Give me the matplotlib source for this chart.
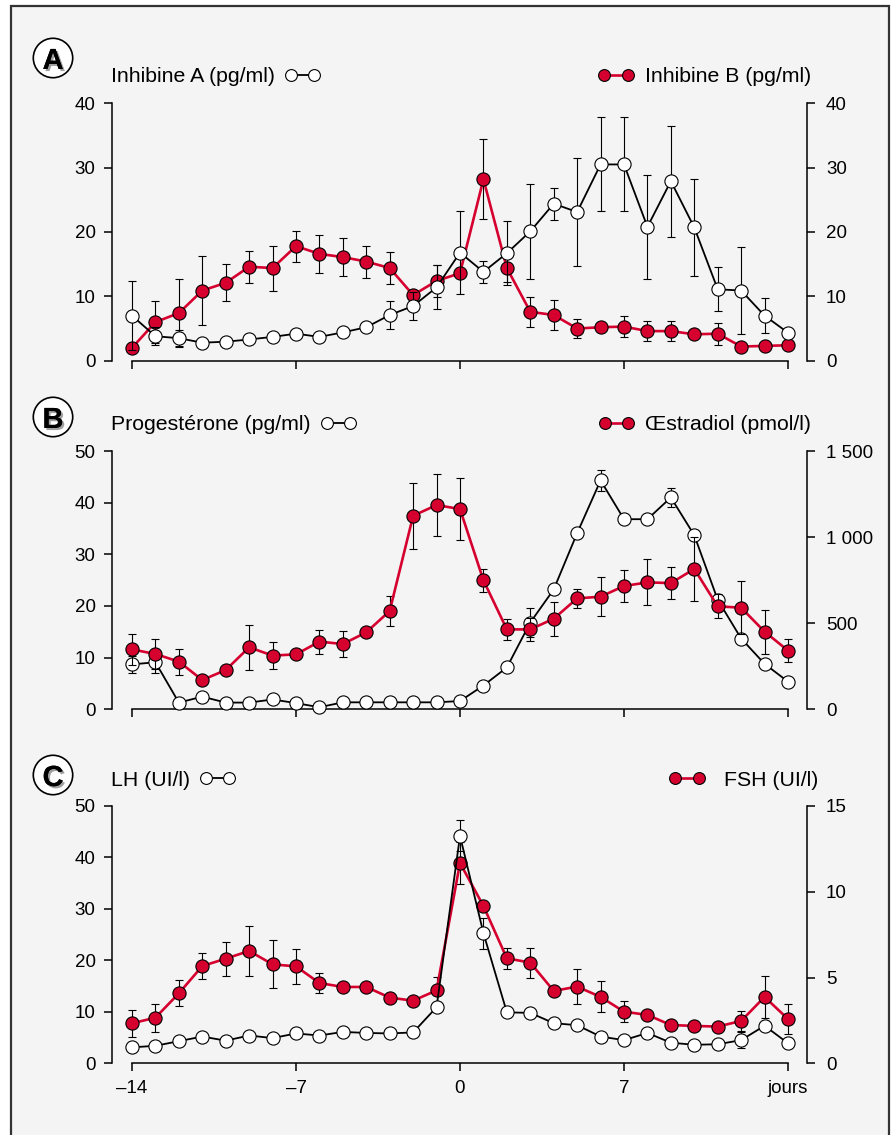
import matplotlib
matplotlib.use('Agg')
import matplotlib.pyplot as plt
import matplotlib.patheffects as pe
from matplotlib.patches import Circle, Rectangle
from matplotlib.lines import Line2D

plt.rcParams['font.family'] = ['Liberation Sans', 'DejaVu Sans']

days = list(range(-14, 15))

# A : inhibines (pg/ml)
inhA = [7.0, 3.8, 3.5, 2.8, 2.95, 3.3, 3.7, 4.2, 3.7, 4.4, 5.2, 7.1, 8.5, 11.4,
        16.8, 13.8, 16.7, 20.1, 24.4, 23.1, 30.5, 30.5, 20.8, 27.9, 20.7, 11.1, 10.9, 7.0, 4.35]
inhA_err = [5.4, 1.4, 1.2, 0, 0, 0, 0, 0, 0, 0, 0, 2.1, 2.1, 3.4,
            6.4, 1.7, 5.0, 7.4, 2.5, 8.4, 7.3, 7.3, 8.1, 8.6, 7.6, 3.4, 6.8, 2.7, 0]
inhB = [2.0, 6.0, 7.4, 10.9, 12.1, 14.6, 14.4, 17.8, 16.6, 16.1, 15.4, 14.4, 10.2, 12.4,
        13.6, 28.2, 14.4, 7.6, 7.1, 5.0, 5.2, 5.3, 4.6, 4.6, 4.1, 4.2, 2.2, 2.3, 2.4]
inhB_err = [0, 3.3, 5.3, 5.3, 2.9, 2.5, 3.5, 2.4, 2.9, 3.0, 2.5, 2.5, 0, 2.5,
            0, 6.2, 2.1, 2.3, 2.3, 1.5, 0, 1.6, 1.5, 1.5, 0, 1.7, 0, 0, 0]

# B : progesterone (pg/ml) et oestradiol (pmol/l)
prog = [8.7, 9.1, 1.3, 2.45, 1.3, 1.3, 1.9, 1.2, 0.4, 1.35, 1.35, 1.35, 1.35, 1.35,
        1.6, 4.6, 8.1, 16.8, 23.2, 34.1, 44.3, 36.8, 36.8, 41.0, 33.7, 21.2, 13.7, 8.8, 5.35]
prog_err = [1.6, 2.0, 0, 0, 0, 0, 0, 0, 0, 0, 0, 0, 0, 0,
            0, 0, 0, 2.8, 0, 0, 2.0, 0, 0, 1.9, 0, 0, 0, 0, 0]
e2 = [348, 321, 277, 170, 228, 360, 312, 319, 393, 379, 447, 571, 1124, 1186,
      1163, 749, 464, 464, 526, 644, 654, 716, 737, 733, 815, 598, 590, 451, 341]
e2_err = [88, 88, 75, 0, 0, 132, 80, 0, 70, 75, 0, 88, 192, 180,
          180, 68, 60, 68, 100, 56, 114, 93, 133, 93, 184, 70, 153, 127, 66]

# C : LH et FSH (UI/l)
lh = [3.1, 3.4, 4.3, 5.2, 4.4, 5.4, 4.9, 5.8, 5.4, 6.1, 5.9, 5.8, 6.0, 10.9,
      44.2, 25.3, 9.9, 9.8, 7.8, 7.4, 5.2, 4.5, 5.9, 4.0, 3.6, 3.7, 4.5, 7.3, 3.9]
lh_err = [0, 0, 0, 0, 0, 0, 0, 0, 0, 0, 0, 0, 0, 0,
          3.0, 3.0, 0, 0, 0, 0, 0, 0, 0, 0, 0, 0, 1.5, 0, 0]
fsh = [2.33, 2.66, 4.08, 5.67, 6.1, 6.55, 5.77, 5.65, 4.68, 4.45, 4.45, 3.83, 3.65, 4.25,
       11.68, 9.17, 6.12, 5.87, 4.22, 4.47, 3.87, 3.01, 2.82, 2.23, 2.18, 2.14, 2.47, 3.87, 2.58]
fsh_err = [0.8, 0.82, 0.75, 0.75, 1.0, 1.45, 1.4, 1.0, 0.6, 0, 0, 0, 0, 0.8,
           1.2, 0, 0.63, 0.87, 0, 1.0, 0.9, 0.6, 0, 0, 0, 0, 0.6, 1.2, 0.85]

xticks = [-14, -7, 0, 7, 14]
xticklabels = ['\u201314', '\u20137', '0', '7', 'jours']

RED = '#d6002f'
W, H = 895, 1135

fig = plt.figure(figsize=(W / 100, H / 100), dpi=100)
fig.patch.set_facecolor('white')

# cadre gris
fig.add_artist(Rectangle((0.11, -0.2), 8.78, (H - 6) / 100 + 0.2, transform=fig.dpi_scale_trans,
                         facecolor='#f4f4f4', edgecolor='#333333', linewidth=1.6, zorder=-10))

panels = [
    dict(letter='A', top=103.3, bottom=360.7, left=inhA, left_err=inhA_err, right=inhB, right_err=inhB_err,
         lmax=40, lticks=[0, 10, 20, 30, 40], rmax=40, rticks=[0, 10, 20, 30, 40],
         rlabels=['0', '10', '20', '30', '40'],
         llab='Inhibine A (pg/ml)', rlab='Inhibine B (pg/ml)', laby=77, circy=58, white_top=True,
         rlabx=811, rpad=0.5),
    dict(letter='B', top=451, bottom=709.3, left=prog, left_err=prog_err, right=e2, right_err=e2_err,
         lmax=50, lticks=[0, 10, 20, 30, 40, 50], rmax=1500, rticks=[0, 500, 1000, 1500],
         rlabels=['0', '500', '1 000', '1 500'],
         llab='Progest\u00e9rone (pg/ml)', rlab='\u0152stradiol (pmol/l)', laby=425, circy=417,
         white_top=False, rlabx=811, rpad=0.5),
    dict(letter='C', top=806, bottom=1063.3, left=lh, left_err=lh_err, right=fsh, right_err=fsh_err,
         lmax=50, lticks=[0, 10, 20, 30, 40, 50], rmax=15, rticks=[0, 5, 10, 15],
         rlabels=['0', '5', '10', '15'],
         llab='LH (UI/l)', rlab='FSH (UI/l)', laby=780, circy=775, white_top=True,
         rlabx=818, rpad=0.87),
]

x0, x1 = 132, 788
tick_fs = 13.5
lab_fs = 15.3

for i, p in enumerate(panels):
    rect = [x0 / W, 1 - p['bottom'] / H, (x1 - x0) / W, (p['bottom'] - p['top']) / H]
    ax = fig.add_axes(rect)
    ax2 = ax.twinx()
    if p['white_top']:
        ax.set_zorder(ax2.get_zorder() + 1)
    ax.patch.set_visible(False)
    ax2.patch.set_visible(False)

    ax.set_xlim(-14, 14)
    ax.set_ylim(0, p['lmax'])
    ax2.set_ylim(0, p['rmax'])

    for a in (ax, ax2):
        a.spines['top'].set_visible(False)
        for s in a.spines.values():
            s.set_linewidth(1.1)
    ax.spines['right'].set_visible(False)
    ax2.spines['left'].set_visible(False)
    ax2.spines['bottom'].set_visible(False)
    ax.spines['left'].set_position(('outward', 14.4))
    ax2.spines['right'].set_position(('outward', 13.5))
    ax.spines['bottom'].set_bounds(-14, 14)

    ax.set_xticks(xticks)
    if i == 2:
        ax.set_xticklabels(xticklabels)
    else:
        ax.set_xticklabels([])
    ax.set_yticks(p['lticks'])
    ax2.set_yticks(p['rticks'])
    ax2.set_yticklabels(p['rlabels'])
    ax.tick_params(axis='both', direction='out', length=5.8, width=1.1, labelsize=tick_fs, pad=6)
    ax2.tick_params(axis='y', direction='out', length=5.8, width=1.1, labelsize=tick_fs, pad=8)

    # serie blanche (axe gauche)
    ax.errorbar(days, p['left'], yerr=p['left_err'], fmt='none', ecolor='black', elinewidth=0.8,
                capsize=3.2, capthick=0.8, zorder=1, clip_on=False)
    ax.plot(days, p['left'], color='black', lw=1.3, marker='o', ms=9.5, mfc='white', mec='black',
            mew=0.8, zorder=3, clip_on=False)

    # serie rouge (axe droit)
    ax2.errorbar(days, p['right'], yerr=p['right_err'], fmt='none', ecolor='black', elinewidth=0.8,
                 capsize=3.2, capthick=0.8, zorder=1, clip_on=False)
    ax2.plot(days, p['right'], color=RED, lw=1.9, marker='o', ms=9.5, mfc=RED, mec='black',
             mew=0.8, zorder=3, clip_on=False)

    # legendes
    h_white = Line2D([], [], color='black', lw=1.3, marker='o', ms=8.5, mfc='white', mec='black', mew=0.8)
    h_red = Line2D([], [], color=RED, lw=1.9, marker='o', ms=8.5, mfc=RED, mec='black', mew=0.8)
    fig.legend(handles=[h_white], labels=[p['llab']], loc='center left',
               bbox_to_anchor=(111 / W, 1 - p['laby'] / H), bbox_transform=fig.transFigure,
               frameon=False, markerfirst=False, numpoints=2, handlelength=1.7,
               handletextpad=0.45, borderpad=0, borderaxespad=0, fontsize=lab_fs)
    fig.legend(handles=[h_red], labels=[p['rlab']], loc='center right',
               bbox_to_anchor=(p['rlabx'] / W, 1 - p['laby'] / H), bbox_transform=fig.transFigure,
               frameon=False, markerfirst=True, numpoints=2, handlelength=1.7,
               handletextpad=p['rpad'], borderpad=0, borderaxespad=0, fontsize=lab_fs)

    # lettre cerclee
    cx, cy = 0.53, (H - p['circy']) / 100
    fig.add_artist(Circle((cx, cy), 0.197, transform=fig.dpi_scale_trans, facecolor='white',
                          edgecolor='black', linewidth=1.2, zorder=5))
    fig.text(53 / W, 1 - p['circy'] / H, p['letter'], ha='center', va='center_baseline',
             fontsize=21, fontweight='bold', zorder=6,
             path_effects=[pe.withSimplePatchShadow(offset=(1.5, -1.5), shadow_rgbFace='#888888', alpha=0.8),
                           pe.Normal()])

fig.savefig('out.png', dpi=100, facecolor=fig.get_facecolor())
